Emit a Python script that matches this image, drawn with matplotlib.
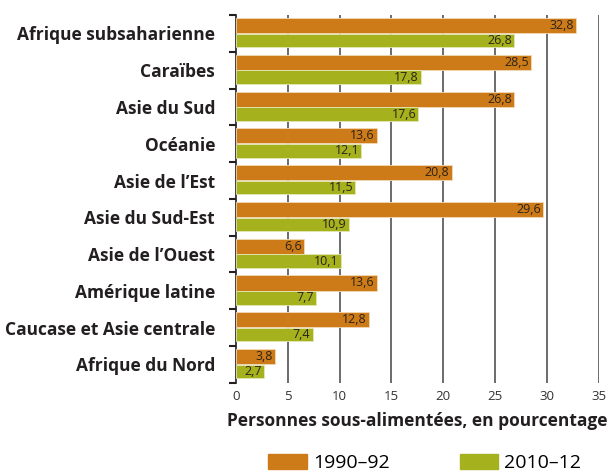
import matplotlib.pyplot as plt
from matplotlib.patches import Patch
import numpy as np

plt.rcParams['font.family'] = ['Open Sans', 'DejaVu Sans']

regions = ["Afrique subsaharienne", "Caraïbes", "Asie du Sud", "Océanie",
           "Asie de l\u2019Est", "Asie du Sud-Est", "Asie de l\u2019Ouest",
           "Amérique latine", "Caucase et Asie centrale", "Afrique du Nord"]
val_1990 = [32.8, 28.5, 26.8, 13.6, 20.8, 29.6, 6.6, 13.6, 12.8, 3.8]
val_2010 = [26.8, 17.8, 17.6, 12.1, 11.5, 10.9, 10.1, 7.7, 7.4, 2.7]
xticks = [0, 5, 10, 15, 20, 25, 30, 35]

orange = '#CD7B19'
green = '#A5B11D'

fig = plt.figure(figsize=(6.08, 4.72), dpi=100)
ax = fig.add_axes([0.388, 0.189, 0.597, 0.779])

y = np.arange(len(regions))
ax.barh(y - 0.215, val_1990, height=0.41, color=orange, edgecolor='#f3d9b8', linewidth=0.6, zorder=3)
ax.barh(y + 0.19, val_2010, height=0.37, color=green, edgecolor='#e3e8b8', linewidth=0.6, zorder=3)

for i in range(len(regions)):
    ax.text(val_1990[i] - 0.2, i - 0.215, f"{val_1990[i]:.1f}".replace('.', ','),
            ha='right', va='center', fontsize=9, color='#2b2218', zorder=4)
    ax.text(val_2010[i] - 0.2, i + 0.19, f"{val_2010[i]:.1f}".replace('.', ','),
            ha='right', va='center', fontsize=9, color='#2b2218', zorder=4)

ax.set_xlim(0, 35)
ax.set_ylim(len(regions) - 0.5, -0.5)
ax.set_xticks(xticks)
ax.set_xticklabels([str(t) for t in xticks], fontsize=9.5, color='#333333')
ax.tick_params(axis='x', length=0, pad=5)
for t in xticks[1:]:
    ax.axvline(t, color='#444444', linewidth=1.1, zorder=1)

ax.set_yticks(y)
ax.set_yticklabels(regions, fontsize=12.5, fontweight='bold', color='#231f20')
ax.tick_params(axis='y', which='major', length=0, pad=15)
ax.set_yticks(np.arange(-0.5, len(regions)), minor=True)
ax.tick_params(axis='y', which='minor', length=5, width=1.5, color='#231f20')

for s in ['top', 'right', 'bottom']:
    ax.spines[s].set_visible(False)
ax.spines['left'].set_color('#231f20')
ax.spines['left'].set_linewidth(1.2)

ax.set_xlabel("Personnes sous-alimentées, en pourcentage", fontsize=12.5,
              fontweight='bold', color='#231f20', labelpad=7)

handles = [Patch(color=orange, label='1990\u201392'), Patch(color=green, label='2010\u201312')]
fig.legend(handles=handles, loc='lower left', bbox_to_anchor=(0.441, 0.0), ncol=2,
           frameon=False, fontsize=14, handlelength=2.0, handleheight=0.8,
           columnspacing=3.6, handletextpad=0.3, borderpad=0, borderaxespad=0)

fig.savefig('out.png', dpi=100)
